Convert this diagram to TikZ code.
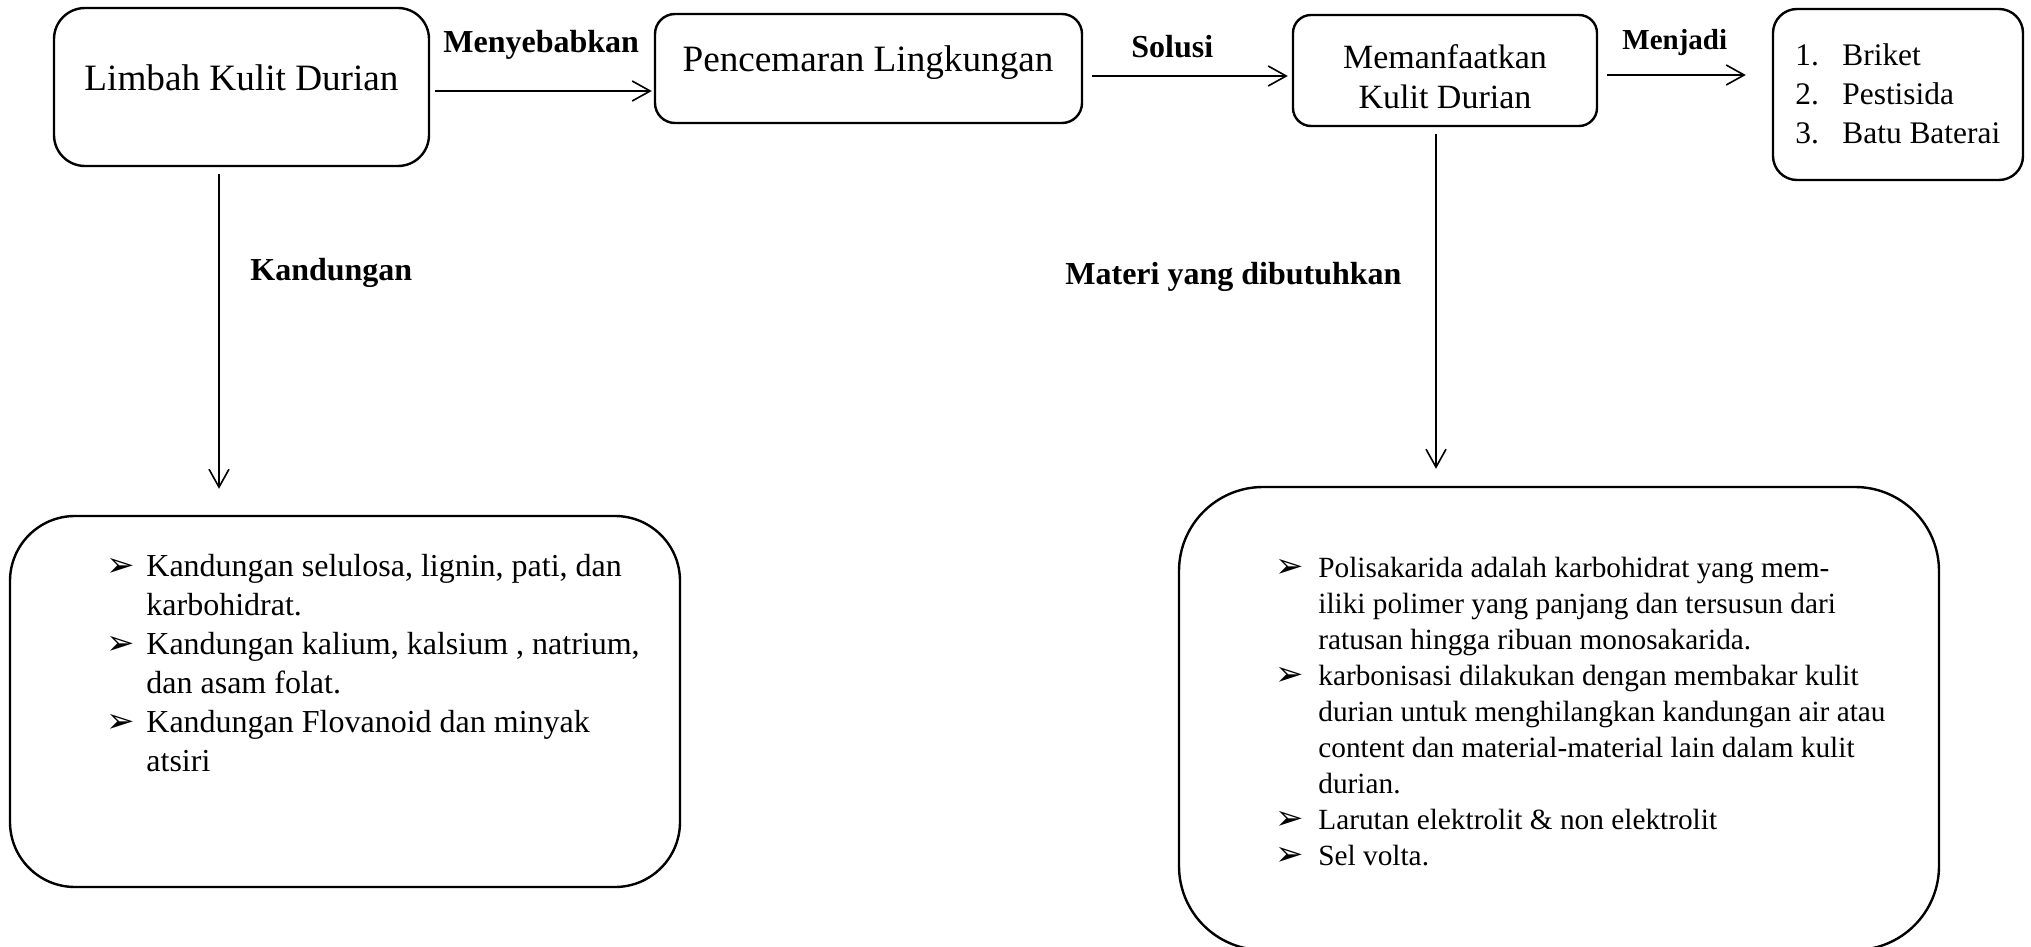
\documentclass[tikz,border=0pt]{standalone}
\usepackage{fontspec}
\setmainfont{Liberation Serif}
\newfontfamily\dejavu{DejaVu Sans}
\usetikzlibrary{arrows.meta}
\newcommand{\bl}[1]{\makebox[#1][l]{\dejavu\fontsize{17}{17}\selectfont\symbol{"27A2}}}
\begin{document}
\begin{tikzpicture}[x=0.5pt,y=-0.5pt,
  box/.style={draw, line width=1.2pt, inner sep=0pt},
  arr/.style={draw, line width=0.8pt, -{Straight Barb[length=9pt,width=10pt]}},
  txt/.style={inner sep=0pt, anchor=base},
  lbl/.style={inner sep=0pt, anchor=base west, font=\fontsize{16}{19}\selectfont\bfseries}]
\useasboundingbox (0,0) rectangle (2031,947);

% boxes
\node[box, rounded corners=15.5pt, minimum width=187.5pt, minimum height=79pt] (b1) at (241.5,87) {};
\node[box, rounded corners=10pt, minimum width=213.5pt, minimum height=54.5pt] (b2) at (868.5,68.5) {};
\node[box, rounded corners=9pt, minimum width=152pt, minimum height=55.5pt] (b3) at (1445,70.5) {};
\node[box, rounded corners=12pt, minimum width=125pt, minimum height=85.5pt] (b4) at (1898,94.5) {};
\node[box, rounded corners=32.5pt, minimum width=335pt, minimum height=185.5pt] (b5) at (345,701.5) {};
\node[box, rounded corners=42pt, minimum width=380pt, minimum height=231.5pt] (b6) at (1559,718.5) {};

% texts in boxes
\node[txt, font=\fontsize{18.6}{22}\selectfont] (t1) at (241.5,91) {Limbah Kulit Durian};
\node[txt, font=\fontsize{17}{20}\selectfont] (t3) at (1445,69)
  {\begin{tabular}[t]{@{}c@{}}Memanfaatkan\\Kulit Durian\end{tabular}};
\node[txt, font=\fontsize{18.6}{22}\selectfont] (t2) at (868,72) {Pencemaran Lingkungan};
\node[txt, anchor=base west, font=\fontsize{15.7}{19.5}\selectfont] (t4) at (1795,66)
  {\begin{tabular}[t]{@{}p{23.5pt}@{}l@{}}1.&Briket\\2.&Pestisida\\3.&Batu Baterai\end{tabular}};
\node[txt, anchor=base west, font=\fontsize{16}{19.5}\selectfont] (t5) at (106,576)
  {\begin{tabular}[t]{@{}l@{}l@{}}
  \bl{20pt}&Kandungan selulosa, lignin, pati, dan\\
  &karbohidrat.\\
  \bl{20pt}&Kandungan kalium, kalsium , natrium,\\
  &dan asam folat.\\
  \bl{20pt}&Kandungan Flovanoid dan minyak\\
  &atsiri
  \end{tabular}};
\node[txt, anchor=base west, font=\fontsize{14.65}{18.05}\selectfont] (t6) at (1275,577)
  {\begin{tabular}[t]{@{}l@{}l@{}}
  \bl{21.5pt}&Polisakarida adalah karbohidrat yang mem-\\
  &iliki polimer yang panjang dan tersusun dari\\
  &ratusan hingga ribuan monosakarida.\\
  \bl{21.5pt}&karbonisasi dilakukan dengan membakar kulit\\
  &durian untuk menghilangkan kandungan air atau\\
  &content dan material-material lain dalam kulit\\
  &durian.\\
  \bl{21.5pt}&Larutan elektrolit \& non elektrolit\\
  \bl{21.5pt}&Sel volta.
  \end{tabular}};

% connectors
\draw[arr, shorten <=2.5pt, shorten >=1pt] (b1.east |- 0,91) -- (b2.west |- 0,91);
\draw[arr, shorten <=4.5pt, shorten >=2pt] (b2.east |- 0,76) -- (b3.west |- 0,76);
\draw[arr, shorten <=4.5pt, shorten >=13pt] (b3.east |- 0,75) -- (b4.west |- 0,75);
\draw[arr, shorten <=3.5pt, shorten >=13pt] (b1.south -| 219,0) -- (b5.north -| 219,0);
\draw[arr, shorten <=3.5pt, shorten >=8.5pt] (b3.south -| 1436,0) -- (b6.north -| 1436,0);

% connector labels
\node[lbl] (l1) at (443,53) {Menyebabkan};
\node[lbl] (l2) at (1131,58) {Solusi};
\node[lbl, font=\fontsize{14.5}{17}\selectfont\bfseries] (l3) at (1622,50) {Menjadi};
\node[lbl] (l4) at (250,280) {Kandungan};
\node[lbl] (l5) at (1065,285) {Materi yang dibutuhkan};
\end{tikzpicture}
\end{document}
